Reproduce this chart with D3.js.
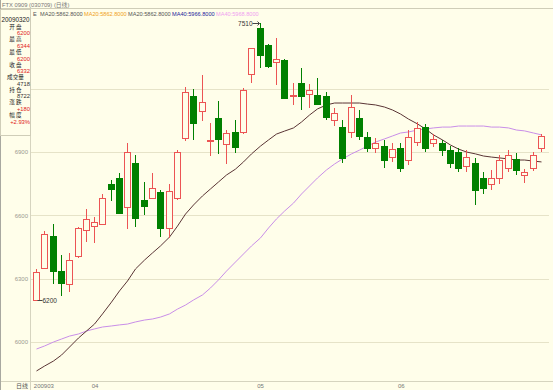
<!DOCTYPE html>
<html>
<head>
<meta charset="utf-8">
<script src="https://cdn.jsdelivr.net/npm/d3@7"></script>
<style>
  body { margin: 0; background: #fffeea; }
  svg { display: block; font-family: "Liberation Sans", "Noto Sans CJK SC", sans-serif; }
</style>
</head>
<body>
<div id="chart"></div>
<script>
// trading days shown (FTX 0909 daily)
const dates = ['20090320','20090323','20090324','20090325','20090326','20090327','20090330',
  '20090401','20090402','20090406','20090407','20090408','20090409','20090410','20090413','20090414',
  '20090415','20090416','20090417','20090420','20090421','20090422','20090423','20090424','20090427',
  '20090428','20090429',
  '20090504','20090505','20090506','20090507','20090508','20090511','20090512','20090513','20090514',
  '20090515','20090518','20090519','20090520','20090521','20090522','20090525','20090526',
  '20090601','20090602','20090603','20090604','20090605','20090608','20090609','20090610','20090611',
  '20090612','20090615','20090616','20090617','20090618','20090619','20090622','20090623','20090624'];

const opens = [6200, 6350, 6504, 6336, 6275, 6407, 6530, 6551, 6558, 6748,
  6778, 6638, 6847, 6673, 6684, 6712, 6541, 6681, 6965, 7167,
  7096, 6950, 7060, 6938, 6996, 6993, 7268, 7486, 7407, 7328,
  7336, 7165, 7225, 7173, 7170, 7165, 7052, 7018, 6995, 7061,
  6971, 6919, 6928, 6876, 6919, 6862, 6947, 7018, 6943, 6943,
  6909, 6900, 6834, 6848, 6777, 6749, 6777, 6824, 6867, 6791,
  6824, 6919];
const highs = [6344, 6528, 6559, 6412, 6422, 6545, 6629, 6592, 6700, 6767,
  6802, 6941, 6886, 6759, 6799, 6720, 6748, 6910, 7207, 7197,
  7265, 7036, 7142, 7004, 7052, 7202, 7394, 7510, 7410, 7441,
  7340, 7228, 7297, 7221, 7252, 7184, 7108, 7052, 7170, 7099,
  6995, 6966, 6957, 6943, 6943, 7004, 7042, 7033, 6985, 6957,
  6928, 6919, 6909, 6872, 6805, 6815, 6886, 6909, 6895, 6820,
  6900, 6985];
const lows = [6200, 6346, 6275, 6218, 6237, 6400, 6475, 6469, 6555, 6667,
  6611, 6534, 6546, 6602, 6682, 6499, 6491, 6675, 6952, 6957,
  7048, 6883, 6891, 6842, 6894, 6985, 7225, 7297, 7296, 7217,
  7150, 7123, 7099, 7107, 7123, 7052, 7023, 6848, 6966, 6957,
  6900, 6895, 6824, 6853, 6805, 6838, 6928, 6900, 6924, 6881,
  6824, 6805, 6805, 6649, 6701, 6720, 6749, 6805, 6791, 6752,
  6810, 6900];
const closes = [6332, 6512, 6334, 6279, 6388, 6541, 6581, 6567, 6681, 6723,
  6612, 6900, 6586, 6644, 6728, 6541, 6715, 6902, 7186, 7039,
  7138, 6956, 6960, 6988, 6922, 7194, 7391, 7360, 7307, 7339,
  7157, 7172, 7165, 7194, 7126, 7066, 7085, 6872, 7113, 6976,
  6919, 6943, 6862, 6914, 6824, 6971, 7014, 6919, 6962, 6909,
  6848, 6824, 6876, 6720, 6730, 6777, 6862, 6886, 6815, 6807,
  6886, 6976];

const ma20 = [5862.8, 5886, 5910, 5938, 5976, 6019, 6052, 6085, 6133, 6189,
  6242, 6289, 6346, 6388, 6422, 6455, 6497, 6549, 6606, 6649,
  6692, 6725, 6758, 6791, 6819, 6853, 6891, 6928, 6957, 6985,
  6999, 7014, 7042, 7075, 7104, 7123, 7132, 7132, 7132, 7132,
  7127, 7123, 7113, 7099, 7080, 7056, 7033, 7009, 6981, 6957,
  6933, 6914, 6900, 6891, 6881, 6876, 6872, 6867, 6862, 6862,
  6857, 6853];
const ma40 = [5966.8, 5981, 6000, 6014, 6028, 6038, 6052, 6062, 6071, 6076,
  6081, 6085, 6095, 6104, 6109, 6118, 6133, 6156, 6175, 6199,
  6223, 6256, 6294, 6336, 6379, 6417, 6455, 6493, 6540, 6583,
  6620, 6658, 6701, 6739, 6777, 6815, 6843, 6867, 6891, 6909,
  6928, 6947, 6962, 6976, 6990, 6995, 7004, 7009, 7014, 7018,
  7018, 7023, 7023, 7023, 7023, 7018, 7018, 7014, 7004, 7000,
  6990, 6981];

const yTicks = [6000, 6300, 6600, 6900];
const gridTicks = [6000, 6300, 6600, 6900, 7200];
const monthTicks = ['20090320', '20090401', '20090504', '20090601'];
const monthLabels = ['200903', '04', '05', '06'];

const headerTitle = 'FTX 0909 (030709) (日线)';
const legendItems = ['MA20:5862.8000', 'MA20:5862.8000', 'MA20:5862.8000', 'MA40:5966.8000', 'MA40:5968.8000'];
const infoDate = '20090320';
const infoLabels = ['开 盘', '最 高', '最 低', '收 盘', '成交量', '持 仓', '涨 跌', '幅 度'];
const infoValues = ['6200', '6344', '6200', '6332', '4718', '8722', '+180', '+2.93%'];

const width = 553, height = 390;
const bg = '#fffeea', red = '#ec5454', green = '#008000';
const legendColors = ['#555', '#f0a020', '#555', '#1c1c9c', '#f0a0f0'];

const svg = d3.select('#chart').append('svg')
  .attr('width', width)
  .attr('height', height);

svg.append('rect').attr('width', width).attr('height', height).attr('fill', bg);

const x = d3.scaleBand().domain(dates).range([32, 545]).paddingInner(0.2).paddingOuter(0.1);
const y = d3.scaleLinear().domain([6000, 6900]).range([342, 152]);
const cx = d => Math.round(x(d) + x.bandwidth() / 2) + 0.5;

// grid
svg.append('g')
  .selectAll('line')
  .data(gridTicks)
  .enter()
  .append('line')
  .attr('x1', 31).attr('x2', 549)
  .attr('y1', d => Math.round(y(d)) + 0.5)
  .attr('y2', d => Math.round(y(d)) + 0.5)
  .attr('stroke', '#e6e3c8');

// frame
svg.append('line').attr('x1', 0).attr('x2', width).attr('y1', 8.5).attr('y2', 8.5).attr('stroke', '#cfcdb8');
svg.append('line').attr('x1', 30.5).attr('x2', 30.5).attr('y1', 9).attr('y2', 390).attr('stroke', '#d6d4bf');
svg.append('line').attr('x1', 0).attr('x2', width).attr('y1', 381.5).attr('y2', 381.5).attr('stroke', '#d6d4bf');
svg.append('line').attr('x1', 0.5).attr('x2', 0.5).attr('y1', 0).attr('y2', height).attr('stroke', '#a8a8a0');

// y axis labels
const yAxis = svg.append('g')
  .attr('transform', 'translate(28,0)')
  .call(d3.axisLeft(y).tickValues(yTicks).tickSize(0).tickPadding(0).tickFormat(d3.format('d')));
yAxis.select('.domain').remove();
yAxis.selectAll('text').attr('fill', '#9a9a90').style('font-size', '6px');

// moving averages
const line = d3.line().x((v, i) => cx(dates[i])).y(v => y(v));
svg.append('path').datum(ma40).attr('d', line).attr('fill', 'none').attr('stroke', '#c98ee8').attr('stroke-width', 1);
svg.append('path').datum(ma20).attr('d', line).attr('fill', 'none').attr('stroke', '#5a3535').attr('stroke-width', 1);

// candles
const candles = dates.map((d, i) => ({ date: d, o: opens[i], h: highs[i], l: lows[i], c: closes[i] }));
const g = svg.append('g').selectAll('g').data(candles).enter().append('g');
g.append('line')
  .attr('x1', d => cx(d.date)).attr('x2', d => cx(d.date))
  .attr('y1', d => Math.round(y(d.h)))
  .attr('y2', d => Math.round(y(d.l)))
  .attr('stroke', d => d.c >= d.o ? red : green);
g.append('rect')
  .attr('x', d => cx(d.date) - 3)
  .attr('width', 6)
  .attr('y', d => Math.round(y(Math.max(d.o, d.c))) + 0.5)
  .attr('height', d => Math.max(1, Math.round(y(Math.min(d.o, d.c))) - Math.round(y(Math.max(d.o, d.c)))))
  .attr('fill', d => d.c >= d.o ? bg : green)
  .attr('stroke', d => d.c >= d.o ? red : green);

// max / min markers
const iMax = d3.maxIndex(highs), iMin = d3.minIndex(lows);
const yMax = Math.round(y(highs[iMax])) + 0.5;
svg.append('line').attr('x1', cx(dates[iMax]) - 8).attr('x2', cx(dates[iMax]) - 1)
  .attr('y1', yMax).attr('y2', yMax).attr('stroke', '#444');
svg.append('path').attr('d', `M${cx(dates[iMax]) - 3},${yMax - 2}L${cx(dates[iMax]) - 1},${yMax}L${cx(dates[iMax]) - 3},${yMax + 2}`)
  .attr('fill', 'none').attr('stroke', '#444');
svg.append('text').attr('x', cx(dates[iMax]) - 8).attr('y', yMax + 2)
  .attr('text-anchor', 'end').attr('fill', '#333').style('font-size', '6.5px').text(highs[iMax]);
const yMin = Math.round(y(lows[iMin])) + 0.5;
svg.append('line').attr('x1', cx(dates[iMin]) + 1).attr('x2', cx(dates[iMin]) + 6)
  .attr('y1', yMin).attr('y2', yMin).attr('stroke', '#444');
svg.append('text').attr('x', cx(dates[iMin]) + 6).attr('y', yMin + 2.5)
  .attr('fill', '#333').style('font-size', '6.5px').text(lows[iMin]);

// x labels
svg.append('text').attr('x', 16).attr('y', 388).attr('fill', '#555').style('font-size', '6px').text('日线');
svg.append('g').selectAll('text').data(monthTicks).enter().append('text')
  .attr('x', d => x(d) + 1).attr('y', 388)
  .attr('fill', '#777').style('font-size', '6px')
  .text((d, i) => monthLabels[i]);

// header
svg.append('text').attr('x', 2).attr('y', 6.5).attr('fill', '#777').style('font-size', '5.8px').text(headerTitle);
svg.append('text').attr('x', 33).attr('y', 15.5).attr('fill', '#555').style('font-size', '5.6px').text('E');
svg.append('g').selectAll('text').data(legendItems).enter().append('text')
  .attr('x', (d, i) => 40 + 44 * i).attr('y', 15.5)
  .attr('fill', (d, i) => legendColors[i]).style('font-size', '5.6px')
  .text(d => d);

// info panel
svg.append('rect').attr('x', 0.5).attr('y', 9.5).attr('width', 30).attr('height', 126)
  .attr('fill', bg).attr('stroke', '#cfcdb8');
svg.append('text').attr('x', 1.5).attr('y', 22).attr('fill', '#222').style('font-size', '6.3px').text(infoDate);
const info = svg.append('g').selectAll('g').data(infoLabels).enter().append('g')
  .attr('transform', (d, i) => `translate(0,${28.8 + 12.6 * i})`);
info.append('text').attr('x', 15.5).attr('text-anchor', 'middle')
  .attr('fill', '#222').style('font-size', '5.6px')
  .style('font-family', '"Noto Sans CJK SC", sans-serif')
  .text(d => d);
info.append('text').attr('x', 30).attr('y', 6.6).attr('text-anchor', 'end')
  .attr('fill', (d, i) => (i === 4 || i === 5) ? '#333' : '#e02020')
  .style('font-size', '5.8px')
  .text((d, i) => infoValues[i]);
</script>
</body>
</html>
